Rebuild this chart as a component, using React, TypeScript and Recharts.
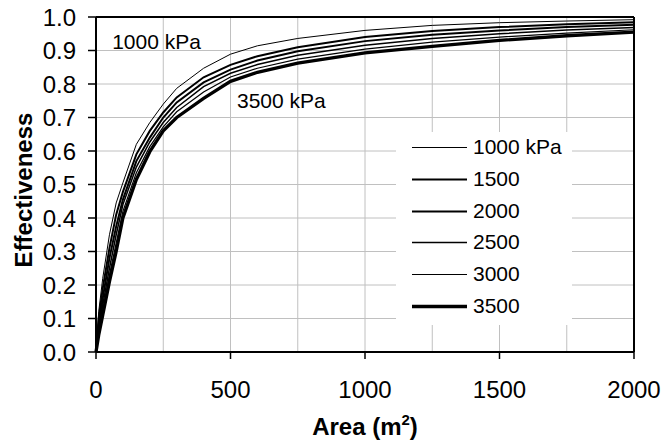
import React from "react";
import {
  LineChart,
  Line,
  XAxis,
  YAxis,
  CartesianGrid,
  Legend,
  ReferenceLine,
  ReferenceDot,
} from "recharts";

const FONT = "'Liberation Sans', Arial, sans-serif";

// area in m2
const areas = [0, 10, 25, 50, 75, 100, 150, 200, 250, 300, 400, 500, 600, 750, 1000, 1250, 1500, 1750, 2000];

const eff1000 = [0, 0.12, 0.22, 0.35, 0.445, 0.505, 0.62, 0.685, 0.74, 0.787, 0.847, 0.889, 0.914, 0.936, 0.96, 0.975, 0.983, 0.988, 0.992];
const eff1500 = [0, 0.1, 0.19, 0.31, 0.41, 0.478, 0.59, 0.66, 0.715, 0.76, 0.82, 0.857, 0.883, 0.91, 0.94, 0.958, 0.97, 0.978, 0.984];
const eff2000 = [0, 0.08, 0.16, 0.28, 0.375, 0.455, 0.57, 0.64, 0.7, 0.745, 0.805, 0.843, 0.87, 0.898, 0.928, 0.947, 0.96, 0.97, 0.977];
const eff2500 = [0, 0.07, 0.14, 0.25, 0.35, 0.44, 0.552, 0.627, 0.685, 0.73, 0.792, 0.832, 0.858, 0.886, 0.916, 0.936, 0.95, 0.961, 0.969];
const eff3000 = [0, 0.06, 0.125, 0.23, 0.325, 0.42, 0.535, 0.613, 0.672, 0.717, 0.776, 0.821, 0.847, 0.874, 0.904, 0.925, 0.94, 0.952, 0.962];
const eff3500 = [0, 0.05, 0.11, 0.21, 0.3, 0.4, 0.515, 0.598, 0.66, 0.7, 0.757, 0.808, 0.835, 0.862, 0.893, 0.912, 0.93, 0.944, 0.955];

const seriesKeys = ["p1000", "p1500", "p2000", "p2500", "p3000", "p3500"];
const seriesNames = ["1000 kPa", "1500", "2000", "2500", "3000", "3500"];
const seriesValues = [eff1000, eff1500, eff2000, eff2500, eff3000, eff3500];
const seriesWidths = [1, 2, 2, 1.5, 1.2, 3.3];

const xTicks = [0, 500, 1000, 1500, 2000];
const xGrid = [250, 500, 750, 1000, 1250, 1500, 1750];
const yTicks = [0, 0.1, 0.2, 0.3, 0.4, 0.5, 0.6, 0.7, 0.8, 0.9, 1.0];

const chartData = areas.map((a, i) => {
  const row: Record<string, number> = { area: a };
  seriesKeys.forEach((k, j) => {
    row[k] = seriesValues[j][i];
  });
  return row;
});

const LegendBox = () => (
  <div style={{ width: 176, height: 193, background: "#fff", position: "relative", fontFamily: FONT }}>
    {seriesNames.map((name, i) => (
      <div
        key={name}
        style={{ position: "absolute", left: 0, top: Math.round(15 + i * 31.8) - 12, height: 24, width: 176 }}
      >
        <svg width={72} height={24} style={{ position: "absolute", left: 0, top: 0 }}>
          <line x1={16} x2={71} y1={12.5} y2={12.5} stroke="#000" strokeWidth={seriesWidths[i]} />
        </svg>
        <span
          style={{ position: "absolute", left: 77, top: 0, fontSize: 21, lineHeight: "24px", color: "#000" }}
        >
          {name}
        </span>
      </div>
    ))}
  </div>
);

export default function App() {
  return (
    <div style={{ position: "absolute", left: 0, top: 0 }}>
      <LineChart
        width={662}
        height={442}
        data={chartData}
        margin={{ top: 17, right: 28, left: 0, bottom: 0 }}
        style={{ fontFamily: FONT }}
      >
        <CartesianGrid stroke="#c0c0c0" strokeWidth={1} verticalValues={xGrid} />
        <XAxis
          dataKey="area"
          type="number"
          domain={[0, 2000]}
          ticks={xTicks}
          height={90}
          tickSize={7}
          tickMargin={22}
          axisLine={{ stroke: "#000", strokeWidth: 2 }}
          tickLine={{ stroke: "#000", strokeWidth: 1.5 }}
          tick={{ fontSize: 24, fill: "#000", fontFamily: FONT }}
          label={{
            content: () => (
              <text x={365} y={435} textAnchor="middle" fontSize={24} fontWeight="bold" fill="#000" fontFamily={FONT}>
                Area (m
                <tspan fontSize={15} dy={-10}>2</tspan>
                <tspan dy={10}>)</tspan>
              </text>
            ),
          }}
        />
        <YAxis
          type="number"
          domain={[0, 1]}
          ticks={yTicks}
          width={96}
          tickSize={8}
          tickMargin={12}
          tickFormatter={(v: number) => v.toFixed(1)}
          axisLine={{ stroke: "#000", strokeWidth: 2 }}
          tickLine={{ stroke: "#000", strokeWidth: 1.5 }}
          tick={{ fontSize: 24, fill: "#000", fontFamily: FONT }}
          label={{
            content: () => (
              <text
                x={32}
                y={190}
                transform="rotate(-90, 32, 190)"
                textAnchor="middle"
                fontSize={24}
                fontWeight="bold"
                fill="#000"
                fontFamily={FONT}
              >
                Effectiveness
              </text>
            ),
          }}
        />
        <ReferenceLine y={1} stroke="#000" strokeWidth={2} />
        <ReferenceLine x={2000} stroke="#000" strokeWidth={2} />
        <Legend
          layout="vertical"
          align="center"
          verticalAlign="middle"
          content={() => <LegendBox />}
          wrapperStyle={{ position: "absolute", left: 396, top: 132, width: 176, height: 193 }}
        />
        {seriesKeys.map((k, i) => (
          <Line
            key={k}
            dataKey={k}
            name={seriesNames[i]}
            type="linear"
            stroke="#000"
            strokeWidth={seriesWidths[i]}
            dot={false}
            activeDot={false}
            isAnimationActive={false}
          />
        ))}
        <ReferenceDot
          x={60}
          y={0.928}
          r={0}
          fill="none"
          stroke="none"
          label={{ value: "1000 kPa", position: "right", offset: 0, fontSize: 21, fill: "#000", fontFamily: FONT }}
        />
        <ReferenceDot
          x={524}
          y={0.752}
          r={0}
          fill="none"
          stroke="none"
          label={{ value: "3500 kPa", position: "right", offset: 0, fontSize: 21, fill: "#000", fontFamily: FONT }}
        />
      </LineChart>
    </div>
  );
}
